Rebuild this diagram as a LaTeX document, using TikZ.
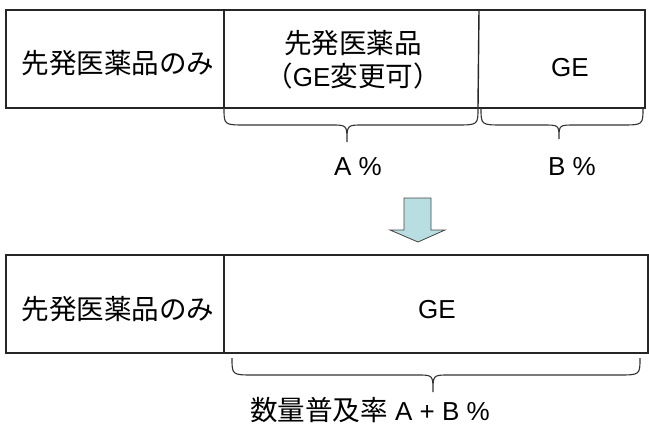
\documentclass[tikz,border=0pt]{standalone}
\usepackage{fontspec}
\setmainfont{Liberation Sans}
\newfontfamily\jp{Noto Sans CJK JP}[Scale=1.06]
\definecolor{arrowfill}{RGB}{184,222,225}
\definecolor{arrowline}{RGB}{70,70,70}
\newcommand\mybrace[6]{% x1 x2 xm ytop ymid ytip
  \draw[bracestyle] (#1,#4) .. controls (#1,#5) and (#1,#5) .. ({#1+22},#5) -- ({#3-16},#5)
    .. controls (#3,#5) and (#3,#5) .. (#3,#6)
    .. controls (#3,#5) and (#3,#5) .. ({#3+16},#5) -- ({#2-22},#5)
    .. controls (#2,#5) and (#2,#5) .. (#2,#4);}
\begin{document}
\begin{tikzpicture}[x=1pt,y=-1pt,
  boxline/.style={line width=1.8pt, draw=black!85},
  divline/.style={line width=1.4pt, draw=black!85},
  bracestyle/.style={line width=1.1pt, draw=black!80},
  lbl/.style={inner sep=0pt, font=\fontsize{26}{30}\selectfont, text=black},
  bigarrow/.style={fill=arrowfill, draw=arrowline, line width=0.8pt, line join=miter}]
\useasboundingbox (0,0) rectangle (649,426);
% top bar
\draw[boxline] (6,10) rectangle (645,108);
\coordinate (d1t) at (224,10); \coordinate (d1b) at (224,108);
\coordinate (d2t) at (479,10); \coordinate (d2b) at (478,108);
\draw[divline] (d1t) -- (d1b);
\draw[divline] (d2t) -- (d2b);
\node[lbl] (t1) at (118,63) {\jp 先発医薬品のみ};
\node[lbl] (t2) at (353,43) {\jp 先発医薬品};
\node[lbl] (t3) at (353,76) {{\jp （}GE{\jp 変更可）}};
\node[lbl] (t4) at (570,68) {GE};
\mybrace{224}{478}{347}{108}{125}{142}
\mybrace{481}{643}{559}{108}{125}{139}
\node[lbl] (pa) at (358,167) {A \%};
\node[lbl] (pb) at (572,167) {B \%};
% arrow
\draw[bigarrow] (404,198) -- (431,198) -- (431,230) -- (445,230) -- (418,242) -- (390,230) -- (404,230) -- cycle;
% bottom bar
\draw[boxline] (6,255) rectangle (648,353);
\coordinate (d3t) at (224,255); \coordinate (d3b) at (224,353);
\draw[divline] (d3t) -- (d3b);
\node[lbl] (b1) at (118,309) {\jp 先発医薬品のみ};
\node[lbl] (b2) at (437,310) {GE};
\mybrace{232}{640}{433}{358}{375}{392}
\node[lbl] (b3) at (370,410) {{\jp 数量普及率} A + B \%};
\end{tikzpicture}
\end{document}
